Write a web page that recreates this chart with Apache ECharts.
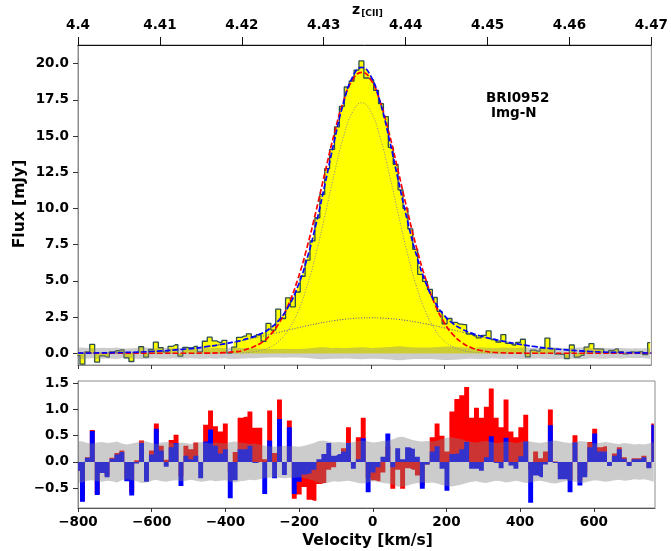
<!DOCTYPE html>
<html><head><meta charset="utf-8">
<script src="https://cdn.jsdelivr.net/npm/echarts@6/dist/echarts.min.js"></script>
<style>html,body{margin:0;padding:0;background:#fff}#c{width:671px;height:551px}</style>
</head><body><div id="c"></div>
<script>
// channel centres (km/s)
const velocity = [-801.3,-787.9,-774.6,-761.2,-747.8,-734.5,-721.1,-707.7,-694.3,-681.0,
-667.6,-654.2,-640.9,-627.5,-614.1,-600.8,-587.4,-574.0,-560.6,-547.3,
-533.9,-520.5,-507.2,-493.8,-480.4,-467.1,-453.7,-440.3,-427.0,-413.6,
-400.2,-386.8,-373.5,-360.1,-346.7,-333.4,-320.0,-306.6,-293.3,-279.9,
-266.5,-253.2,-239.8,-226.4,-213.1,-199.7,-186.3,-173.0,-159.6,-146.2,
-132.8,-119.5,-106.1,-92.7,-79.4,-66.0,-52.6,-39.3,-25.9,-12.5,
0.8,14.2,27.5,40.9,54.3,67.6,81.0,94.4,107.7,121.1,
134.5,147.8,161.2,174.6,187.9,201.3,214.7,228.0,241.4,254.8,
268.1,281.5,294.9,308.2,321.6,335.0,348.3,361.7,375.1,388.4,
401.8,415.2,428.5,441.9,455.3,468.6,482.0,495.4,508.7,522.1,
535.5,548.8,562.2,575.6,588.9,602.3,615.7,629.0,642.4,655.8,
669.1,682.5,695.9,709.2,722.6,736.0,749.3,762.7];
// observed flux density (mJy)
const flux = [-0.16,-0.75,0.10,0.61,-0.61,-0.18,-0.26,0.10,0.18,0.24,
-0.31,-0.57,0.05,0.45,-0.27,0.26,0.77,0.38,0.09,0.48,
0.59,-0.20,0.41,0.37,0.48,0.09,0.83,1.11,0.85,0.75,
0.89,0.02,0.43,1.10,1.18,1.34,1.13,1.28,0.83,2.06,
1.60,3.05,2.40,3.83,3.21,4.23,5.32,6.43,7.76,9.36,
10.97,12.75,14.08,15.63,17.05,18.39,18.80,19.56,20.19,19.01,
18.88,18.15,17.24,16.35,14.22,13.04,11.28,10.01,8.59,7.17,
5.45,4.96,4.41,3.85,2.89,2.04,2.40,2.14,2.01,1.98,
1.33,1.21,1.06,1.23,1.54,0.95,0.78,1.29,0.69,0.57,
0.75,0.97,-0.25,0.22,0.15,0.34,1.05,0.30,-0.05,-0.08,
-0.36,0.57,-0.27,-0.14,0.42,0.66,0.30,0.29,0.00,0.19,
0.30,0.11,-0.04,0.09,0.08,0.12,-0.10,0.73];
// residuals of single-gaussian fit (red)
const residSingle = [-0.17,-0.75,0.09,0.61,-0.61,-0.19,-0.26,0.08,0.17,0.22,
-0.32,-0.58,0.03,0.41,-0.30,0.22,0.73,0.31,0.04,0.42,
0.52,-0.28,0.31,0.24,0.37,-0.05,0.71,0.98,0.68,0.58,
0.73,-0.20,0.19,0.84,0.86,0.96,0.65,0.65,0.05,0.98,
0.17,1.19,-0.05,0.79,-0.70,-0.62,-0.48,-0.72,-0.74,-0.42,
-0.40,-0.15,-0.10,0.05,0.26,0.66,-0.05,0.47,0.84,-0.30,
-0.35,-0.37,-0.20,0.30,-0.51,-0.15,-0.51,-0.12,-0.15,-0.26,
-0.45,-0.05,0.47,0.73,0.50,0.20,0.96,1.20,1.27,1.43,
0.84,1.03,0.84,1.05,1.40,0.84,0.66,1.19,0.58,0.47,
0.66,0.90,-0.15,0.20,0.07,0.20,1.00,0.01,-0.10,-0.10,
-0.35,0.51,-0.35,-0.20,0.38,0.63,0.28,0.30,-0.02,0.16,
0.28,0.09,-0.05,0.07,0.07,0.12,-0.10,0.73];
// residuals of double-gaussian fit (blue)
const residDouble = [-0.17,-0.76,0.08,0.59,-0.63,-0.21,-0.29,0.06,0.14,0.19,
-0.37,-0.64,-0.03,0.36,-0.38,0.14,0.63,0.22,-0.09,0.28,
0.36,-0.46,0.12,0.05,0.12,-0.31,0.39,0.62,0.31,0.16,
0.24,-0.69,-0.35,0.24,0.24,0.31,-0.02,0.00,-0.61,0.41,
-0.31,0.82,-0.25,0.66,-0.61,-0.38,-0.24,-0.22,-0.15,0.05,
0.15,0.36,0.12,0.15,0.20,0.36,-0.13,0.05,0.45,-0.58,
-0.20,-0.10,0.10,0.54,-0.10,0.26,0.05,0.28,0.25,0.10,
-0.51,-0.05,0.20,0.30,-0.13,-0.55,0.15,0.16,0.24,0.38,
-0.13,-0.13,-0.17,0.09,0.49,-0.02,-0.12,0.46,-0.07,-0.13,
0.11,0.39,-0.78,-0.26,-0.29,-0.05,0.70,-0.02,-0.33,-0.33,
-0.58,0.37,-0.45,-0.29,0.28,0.54,0.20,0.20,-0.08,0.12,
0.24,0.06,-0.08,0.05,0.05,0.09,-0.12,0.71];
// per-channel rms noise (mJy)
const noiseRms = [0.40,0.39,0.36,0.35,0.37,0.38,0.36,0.37,0.39,0.35,
0.33,0.35,0.37,0.40,0.39,0.36,0.34,0.37,0.38,0.36,
0.35,0.37,0.36,0.34,0.36,0.38,0.37,0.35,0.37,0.36,
0.35,0.38,0.39,0.37,0.36,0.34,0.35,0.33,0.31,0.30,
0.29,0.30,0.31,0.30,0.30,0.29,0.31,0.33,0.36,0.40,
0.41,0.39,0.37,0.38,0.37,0.36,0.38,0.40,0.41,0.39,
0.37,0.38,0.40,0.41,0.43,0.47,0.48,0.45,0.42,0.40,
0.39,0.40,0.39,0.41,0.44,0.46,0.47,0.45,0.43,0.40,
0.38,0.37,0.39,0.40,0.38,0.36,0.37,0.39,0.38,0.36,
0.38,0.40,0.39,0.37,0.36,0.38,0.40,0.41,0.39,0.37,
0.36,0.38,0.40,0.39,0.37,0.35,0.36,0.38,0.37,0.35,
0.34,0.36,0.35,0.33,0.34,0.33,0.35,0.38];
// fitted model curves, read at these velocities
const modelVel = [-800,-700,-600,-500,-450,-400,-375,-350,-300,-275,-250,-225,-200,-175,-150,-125,-100,-75,-50,-25,
0,25,50,75,100,125,150,175,200,225,250,275,300,350,400,425,450,500,600,700,766];
const modelSingle = [0,0,0,0,0.007,0.042,0.092,0.192,0.713,1.266,2.126,3.381,5.093,7.261,9.805,12.53,15.17,17.39,18.88,19.40,
18.88,17.39,15.17,12.53,9.805,7.261,5.093,3.381,2.126,1.266,0.713,0.381,0.192,0.042,0.007,0.003,0.001,0,0,0,0];
const modelDouble = [0.012,0.041,0.122,0.305,0.454,0.650,0.772,0.917,1.356,1.736,2.326,3.235,4.590,6.477,8.905,11.73,14.66,17.27,19.07,19.74,
19.12,17.37,14.81,11.92,9.128,6.730,4.865,3.526,2.626,2.038,1.654,1.390,1.192,0.887,0.646,0.544,0.454,0.305,0.122,0.041,0.019];
const modelNarrow = [0,0,0,0,0,0.004,0.012,0.034,0.198,0.431,0.870,1.628,2.834,4.579,6.874,9.583,12.41,14.93,16.67,17.30,
16.67,14.93,12.41,9.583,6.874,4.579,2.834,1.628,0.870,0.431,0.198,0.085,0.034,0.004,0,0,0,0,0,0,0];
const modelBroad = [0.012,0.041,0.122,0.305,0.454,0.646,0.760,0.883,1.158,1.305,1.456,1.607,1.756,1.898,2.031,2.151,2.254,2.338,2.400,2.437,
2.450,2.437,2.400,2.338,2.254,2.151,2.031,1.898,1.756,1.607,1.456,1.305,1.158,0.883,0.646,0.544,0.454,0.305,0.122,0.041,0.019];
const fillRange = [-375, 425];
// tick labels
const velTicks = [-800,-600,-400,-200,0,200,400,600];
const zTicks = [4.40,4.41,4.42,4.43,4.44,4.45,4.46,4.47];
const fluxTicks = [0,2.5,5,7.5,10,12.5,15,17.5,20];
const residTicks = [-0.5,0,0.5,1.0,1.5];

const FONT = '"DejaVu Sans", sans-serif';
const tl = {fontFamily: FONT, fontWeight: 'bold', fontSize: 13.5, color: '#000'};
const mfmt = (v, d) => (v < 0 ? '\u2212' : '') + Math.abs(v).toFixed(d);
const pairs = (xs, ys) => xs.map((x, i) => [x, ys[i]]);
const fillPts = pairs(modelVel, modelDouble).filter(p => p[0] >= fillRange[0] && p[0] <= fillRange[1]);

function band(xi, yi, z) {
  return {
    type: 'custom', xAxisIndex: xi, yAxisIndex: yi, clip: true, silent: true, z: z,
    data: [[0, 0]], encode: {x: 0, y: 1},
    renderItem: function (params, api) {
      const pts = [];
      for (let i = 0; i < velocity.length; i++) pts.push(api.coord([velocity[i], noiseRms[i]]));
      for (let i = velocity.length - 1; i >= 0; i--) pts.push(api.coord([velocity[i], -noiseRms[i]]));
      return {type: 'polygon', shape: {points: pts}, style: {fill: 'rgba(128,128,128,0.4)'}};
    }
  };
}
function curve(ys, color, type, width, z) {
  return {type: 'line', xAxisIndex: 0, yAxisIndex: 0, data: pairs(modelVel, ys), smooth: true,
    symbol: 'none', silent: true, z: z, lineStyle: {color: color, type: type, width: width}};
}
function bars(ys, color, z) {
  return {type: 'line', xAxisIndex: 2, yAxisIndex: 1, data: pairs(velocity, ys), step: 'middle',
    symbol: 'none', silent: true, z: z, lineStyle: {width: 0, opacity: 0},
    areaStyle: {color: color, opacity: 1}};
}

const chart = echarts.init(document.getElementById('c'), null, {renderer: 'canvas'});
chart.setOption({
  animation: false,
  grid: [
    {left: 78, top: 45, width: 577, height: 320, show: true, borderColor: '#8c8c8c', borderWidth: 1},
    {left: 78, top: 381, width: 577, height: 127, show: true, borderColor: '#8c8c8c', borderWidth: 1}
  ],
  xAxis: [
    {gridIndex: 0, type: 'value', min: -800, max: 766, position: 'bottom',
      axisLine: {show: true, onZero: false, lineStyle: {color: '#8c8c8c'}},
      axisTick: {show: true, length: 4, customValues: velTicks, lineStyle: {color: '#333'}},
      axisLabel: {show: false, customValues: velTicks}, splitLine: {show: false}},
    {gridIndex: 0, type: 'value', min: 4.40, max: 4.47, position: 'top',
      axisLine: {show: true, onZero: false, lineStyle: {color: '#111'}},
      axisTick: {show: true, length: 8, customValues: zTicks, lineStyle: {color: '#111'}},
      axisLabel: Object.assign({}, tl, {margin: 13, customValues: zTicks, formatter: v => String(+(+v).toFixed(2))}),
      splitLine: {show: false}},
    {gridIndex: 1, type: 'value', min: -800, max: 766, position: 'bottom',
      axisLine: {show: true, onZero: false, lineStyle: {color: '#555'}},
      axisTick: {show: true, length: 4, customValues: velTicks, lineStyle: {color: '#333'}},
      axisLabel: Object.assign({}, tl, {margin: 7, customValues: velTicks, formatter: v => mfmt(v, 0)}),
      splitLine: {show: false}}
  ],
  yAxis: [
    {gridIndex: 0, type: 'value', min: -0.81, max: 21.29,
      axisLine: {show: true, onZero: false, lineStyle: {color: '#8c8c8c'}},
      axisTick: {show: true, length: 5, customValues: fluxTicks, lineStyle: {color: '#333'}},
      axisLabel: Object.assign({}, tl, {margin: 9, customValues: fluxTicks, formatter: v => mfmt(v, 1)}),
      splitLine: {show: false}},
    {gridIndex: 1, type: 'value', min: -0.878, max: 1.542,
      axisLine: {show: true, onZero: false, lineStyle: {color: '#8c8c8c'}},
      axisTick: {show: true, length: 5, customValues: residTicks, lineStyle: {color: '#333'}},
      axisLabel: Object.assign({}, tl, {margin: 9, customValues: residTicks, formatter: v => mfmt(v, 1)}),
      splitLine: {show: false}}
  ],
  series: [
    {type: 'line', xAxisIndex: 0, yAxisIndex: 0, data: fillPts, smooth: true, symbol: 'none', silent: true, z: 1,
      lineStyle: {width: 0, opacity: 0}, areaStyle: {color: '#ffff00', opacity: 1}},
    {type: 'line', xAxisIndex: 0, yAxisIndex: 0, data: pairs(velocity, flux), step: 'middle', symbol: 'none',
      silent: true, z: 2, lineStyle: {color: '#2f4f4f', width: 1.3}, areaStyle: {color: '#ffff00', opacity: 1}},
    band(0, 0, 3),
    curve(modelNarrow, '#8a8a8a', [1, 1.7], 1, 4),
    curve(modelBroad, '#4a4ab0', [1, 1.7], 1, 4),
    curve(modelSingle, '#ff0000', [5.5, 2.4], 1.7, 5),
    curve(modelDouble, '#0000ff', [5.5, 2.4], 1.7, 6),
    bars(residSingle, '#ff0000', 2),
    bars(residDouble, '#0000ff', 3),
    band(2, 1, 4)
  ],
  graphic: [
    {type: 'text', x: 20, y: 204, rotation: Math.PI / 2,
      style: {text: 'Flux [mJy]', font: 'bold 15.5px ' + FONT, fill: '#000', textAlign: 'center', textVerticalAlign: 'middle'}},
    {type: 'text', x: 367.5, y: 541,
      style: {text: 'Velocity [km/s]', font: 'bold 15.5px ' + FONT, fill: '#000', textAlign: 'center', textVerticalAlign: 'middle'}},
    {type: 'text', x: 356, y: 10,
      style: {text: 'z', font: 'bold 14px ' + FONT, fill: '#000', textAlign: 'center', textVerticalAlign: 'middle'}},
    {type: 'text', x: 372, y: 14,
      style: {text: '[CII]', font: 'bold 9px ' + FONT, fill: '#000', textAlign: 'center', textVerticalAlign: 'middle'}},
    {type: 'text', x: 486, y: 98,
      style: {text: 'BRI0952', font: 'bold 13.5px ' + FONT, fill: '#000', textAlign: 'left', textVerticalAlign: 'middle'}},
    {type: 'text', x: 491, y: 113,
      style: {text: 'Img-N', font: 'bold 13.5px ' + FONT, fill: '#000', textAlign: 'left', textVerticalAlign: 'middle'}}
  ]
});
</script>
</body></html>
